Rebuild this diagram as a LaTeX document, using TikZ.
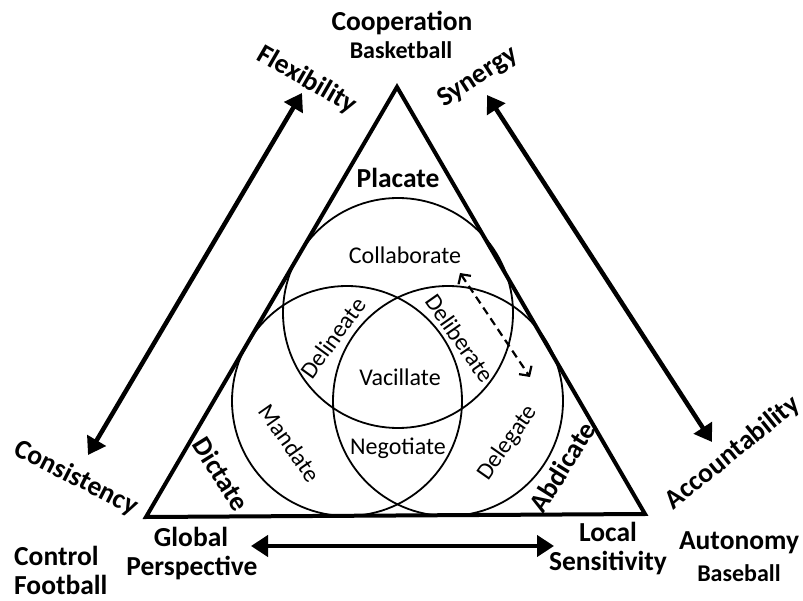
\documentclass[tikz,border=0pt]{standalone}
\usepackage{fontspec}
\setmainfont{Carlito}
\usetikzlibrary{arrows.meta}
\begin{document}
\begin{tikzpicture}[x=1pt,y=-1pt,
  bigl/.style={font=\fontsize{27.5}{30}\selectfont\bfseries, inner sep=0pt},
  subl/.style={font=\fontsize{24}{26}\selectfont\bfseries, inner sep=0pt},
  reg/.style={font=\fontsize{24}{26}\selectfont, inner sep=0pt},
  tri/.style={line width=4pt, line join=miter},
  ring/.style={line width=1.8pt},
  thickarrow/.style={line width=4.5pt, {Triangle[length=17pt,width=21pt]}-{Triangle[length=17pt,width=21pt]}},
  dasharrow/.style={line width=2.2pt, dash pattern=on 8pt off 5pt, {Straight Barb[length=7pt,width=15pt]}-{Straight Barb[length=7pt,width=15pt]}}
]
\useasboundingbox (0,0) rectangle (803,601);
% triangle
\coordinate (apex) at (397,87);
\coordinate (bl) at (146,517);
\coordinate (br) at (645,514);
\draw[tri] (apex) -- (bl) -- (br) -- cycle;
% circles
\draw[ring] (398,313) circle[radius=115pt];
\draw[ring] (347,401) circle[radius=115pt];
\draw[ring] (448,401) circle[radius=115pt];
% arrows
\coordinate (flexTip) at (302,93);
\coordinate (consTip) at (88,455);
\coordinate (synTip) at (487,95);
\coordinate (accTip) at (712,442);
\coordinate (globTip) at (251,546);
\coordinate (locTip) at (554,546);
\coordinate (dA) at (460,273);
\coordinate (dB) at (530,377);
\draw[thickarrow] (consTip) -- (flexTip);
\draw[thickarrow] (accTip) -- (synTip);
\draw[thickarrow] (globTip) -- (locTip);
\draw[dasharrow] (dA) -- (dB);
% top labels
\node[bigl] (coop) at (402,23) {Cooperation};
\node[subl] (bask) at (401,50) {Basketball};
\node[bigl, rotate=-30] (flex) at (307,80) {Flexibility};
\node[bigl, rotate=33] (syn) at (478,77) {Synergy};
\node[bigl, rotate=-27] (cons) at (76,478) {Consistency};
\node[bigl, rotate=39] (acc) at (733,453) {Accountability};
% inside triangle
\node[bigl] (plac) at (398,178) {Placate};
\node[reg] (coll) at (405,255) {Collaborate};
\node[reg, rotate=54] (deli) at (333,338) {Delineate};
\node[reg, rotate=-55] (delib) at (460,338) {Deliberate};
\node[reg] (vac) at (400,377) {Vacillate};
\node[reg, rotate=-55] (mand) at (290,443) {Mandate};
\node[reg] (nego) at (398,448) {Negotiate};
\node[reg, rotate=55] (dele) at (508,443) {Delegate};
\node[bigl, rotate=-58] (dict) at (221,474) {Dictate};
\node[bigl, rotate=58] (abd) at (562,467) {Abdicate};
% bottom labels
\node[bigl] (glob1) at (191,537) {Global};
\node[bigl] (glob2) at (192,568) {Perspective};
\node[bigl] (loc1) at (608,532) {Local};
\node[bigl] (loc2) at (608,563) {Sensitivity};
\node[bigl, anchor=west] (ctrl) at (14,556) {Control};
\node[bigl, anchor=west] (foot) at (14,585) {Football};
\node[bigl] (auto) at (739,543) {Autonomy};
\node[subl] (base) at (739,573) {Baseball};
\end{tikzpicture}
\end{document}
